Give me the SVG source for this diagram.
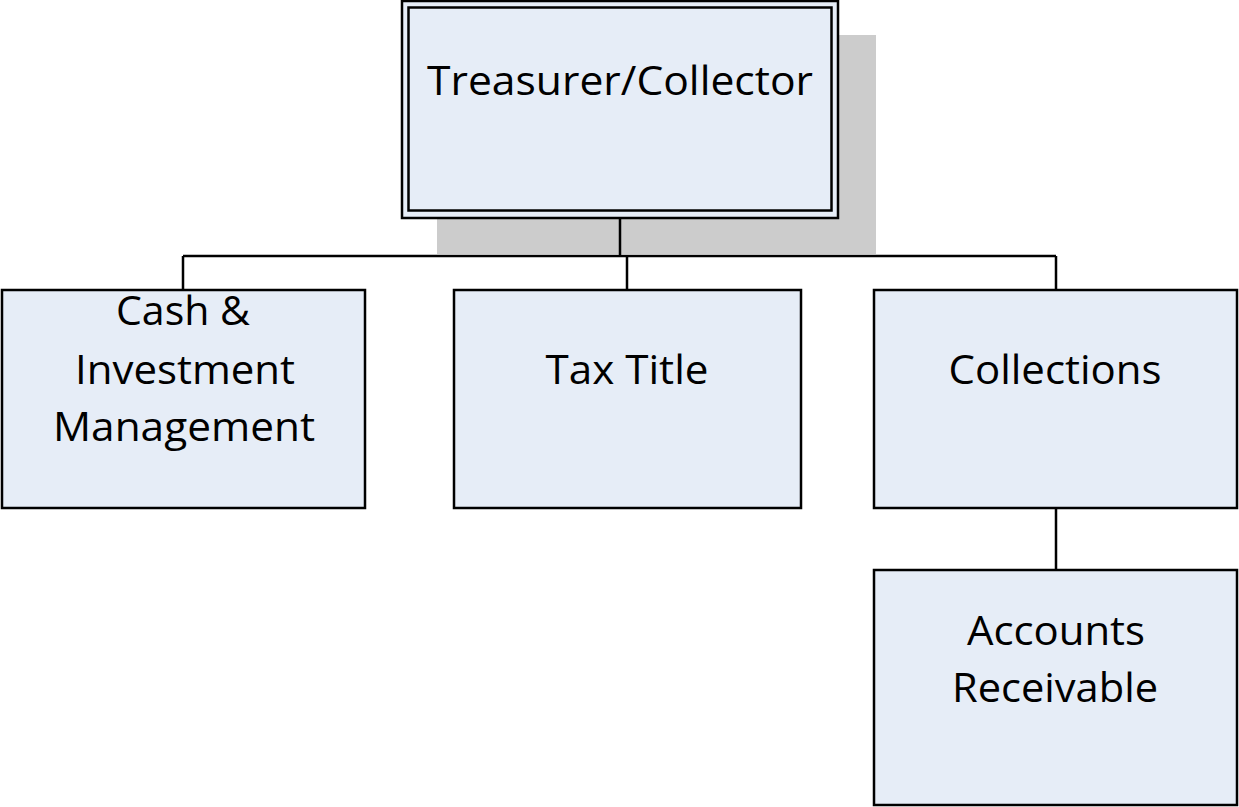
<svg xmlns="http://www.w3.org/2000/svg" width="1239" height="807" viewBox="0 0 1239 807">
<style>
.box{fill:#E6EDF7;stroke:#000;stroke-width:2.5}
.inner{fill:none;stroke:#000;stroke-width:2.5}
.shadow{fill:#CCCCCC}
.conn{fill:none;stroke:#000;stroke-width:2.5}
.lbl{font-family:"Open Sans","Noto Sans","Liberation Sans",sans-serif;font-size:40px;fill:#000;text-anchor:middle}
</style>
<rect width="1239" height="807" fill="#fff"/>
<g id="node-treasurer">
<rect class="shadow" x="437" y="35" width="439" height="219"/>
<rect class="box" x="402" y="1" width="436" height="217"/>
<rect class="inner" x="408.5" y="7.5" width="423" height="203"/>
<text class="lbl" x="620" y="95" textLength="386" lengthAdjust="spacingAndGlyphs">Treasurer/Collector</text>
</g>
<g id="connectors">
<path class="conn" d="M620 218 V256 M183 256 H1056 M183 256 V290 M627 256 V290 M1056 256 V290 M1056 508 V570"/>
</g>
<g id="node-cash">
<rect class="box" x="2" y="290" width="363" height="218"/>
<text class="lbl" x="183" y="325" textLength="134" lengthAdjust="spacingAndGlyphs">Cash &amp;</text>
<text class="lbl" x="185" y="384" textLength="220" lengthAdjust="spacingAndGlyphs">Investment</text>
<text class="lbl" x="184" y="441" textLength="262" lengthAdjust="spacingAndGlyphs">Management</text>
</g>
<g id="node-taxtitle">
<rect class="box" x="454" y="290" width="347" height="218"/>
<text class="lbl" x="627" y="384" textLength="163" lengthAdjust="spacingAndGlyphs">Tax Title</text>
</g>
<g id="node-collections">
<rect class="box" x="874" y="290" width="363" height="218"/>
<text class="lbl" x="1055" y="384" textLength="213" lengthAdjust="spacingAndGlyphs">Collections</text>
</g>
<g id="node-ar">
<rect class="box" x="874" y="570" width="363" height="235"/>
<text class="lbl" x="1056" y="645" textLength="178" lengthAdjust="spacingAndGlyphs">Accounts</text>
<text class="lbl" x="1055" y="702" textLength="206" lengthAdjust="spacingAndGlyphs">Receivable</text>
</g>
</svg>
